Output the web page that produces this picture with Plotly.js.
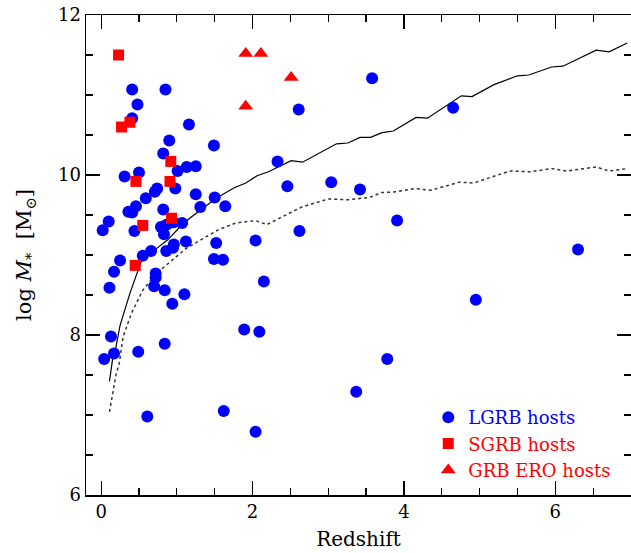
<!DOCTYPE html>
<html><head><meta charset="utf-8">
<script src="https://cdn.plot.ly/plotly-3.0.1.min.js"></script>
<style>html,body{margin:0;padding:0;overflow:hidden;background:#fff}</style>
</head><body><div id="chart"></div>
<script>
// LGRB hosts
const lgrbZ = [0.41,0.85,0.48,0.41,1.16,1.49,0.90,0.82,2.33,2.61,3.58,4.65,0.31,0.50,1.01,1.13,1.25,0.98,0.71,0.74,0.59,1.25,1.50,2.46,1.64,1.31,0.82,0.46,0.36,0.41,0.10,0.02,0.44,0.79,0.87,0.83,0.96,1.07,1.12,0.96,0.95,0.86,1.52,2.04,1.49,1.61,0.66,0.55,0.25,0.17,0.72,0.72,0.70,0.84,1.10,0.11,0.94,2.15,1.89,2.09,0.13,0.84,0.17,0.49,0.04,0.61,1.62,2.04,3.04,3.42,2.62,3.91,6.30,4.95,3.78,3.37];
const lgrbM = [11.07,11.07,10.88,10.71,10.63,10.37,10.43,10.27,10.17,10.82,11.21,10.84,9.98,10.03,10.05,10.10,10.11,9.83,9.79,9.83,9.71,9.76,9.72,9.86,9.61,9.60,9.57,9.61,9.54,9.53,9.42,9.31,9.30,9.35,9.38,9.26,9.41,9.40,9.17,9.13,9.09,9.05,9.15,9.18,8.95,8.94,9.05,8.99,8.93,8.79,8.77,8.72,8.61,8.56,8.51,8.59,8.39,8.67,8.07,8.04,7.98,7.89,7.77,7.79,7.70,6.98,7.05,6.79,9.91,9.82,9.30,9.43,9.07,8.44,7.70,7.29];
// SGRB hosts
const sgrbZ = [0.23,0.27,0.38,0.92,0.46,0.91,0.55,0.93,0.45];
const sgrbM = [11.50,10.60,10.66,10.17,9.92,9.92,9.37,9.46,8.87];
// GRB ERO hosts
const eroZ = [1.91,2.11,2.51,1.91];
const eroM = [11.52,11.52,11.22,10.86];
// solid curve
const solidZ = [0.11,0.15,0.18,0.25,0.38,0.53,0.73,0.88,1.04,1.17,1.34,1.52,1.65,1.76,1.91,2.06,2.21,2.35,2.51,2.66,3.11,3.26,3.42,3.56,3.71,3.86,4.16,4.31,4.76,4.90,5.19,5.50,5.65,5.95,6.10,6.54,6.71,6.95];
const solidM = [7.42,7.69,7.77,8.12,8.52,8.92,9.08,9.19,9.35,9.46,9.58,9.71,9.78,9.84,9.90,9.99,10.04,10.11,10.18,10.16,10.39,10.40,10.47,10.47,10.53,10.55,10.72,10.71,10.99,10.98,11.13,11.24,11.25,11.35,11.36,11.56,11.54,11.65];
// dotted curve
const dotZ = [0.11,0.20,0.24,0.29,0.40,0.55,0.73,0.95,1.12,1.39,1.56,1.78,2.04,2.19,2.35,2.65,3.00,3.26,3.55,3.70,3.90,4.14,4.36,4.73,4.92,5.40,5.67,5.95,6.15,6.54,6.71,6.95];
const dotM = [7.04,7.52,7.65,7.98,8.27,8.56,8.77,8.94,9.08,9.23,9.32,9.40,9.43,9.38,9.46,9.60,9.70,9.69,9.72,9.78,9.79,9.83,9.81,9.91,9.90,10.05,10.04,10.08,10.05,10.10,10.05,10.08];

const FONT = 'DejaVu Serif, serif';
const traces = [
  {x: solidZ, y: solidM, mode:'lines', line:{color:'#000', width:1.2}, showlegend:false, hoverinfo:'skip'},
  {x: dotZ, y: dotM, mode:'lines', line:{color:'#333', width:1.5, dash:'dot'}, showlegend:false, hoverinfo:'skip'},
  {x: lgrbZ, y: lgrbM, mode:'markers', name:'<span style="color:#0000ff">LGRB hosts</span>',
   marker:{symbol:'circle', size:12, color:'#0000ff'}},
  {x: sgrbZ, y: sgrbM, mode:'markers', name:'<span style="color:#ff0000">SGRB hosts</span>',
   marker:{symbol:'square', size:11, color:'#ff0000'}},
  {x: eroZ, y: eroM, mode:'markers', name:'<span style="color:#ff0000">GRB ERO hosts</span>',
   marker:{symbol:'triangle-up', size:13, color:'#ff0000'}}
];
const axisCommon = {
  showline:true, linecolor:'#000', linewidth:1.5, mirror:'allticks',
  ticks:'inside', ticklen:14, tickwidth:1.2, tickcolor:'#000',
  showgrid:false, zeroline:false,
  tickfont:{family:FONT, size:18, color:'#000'},
  minor:{dtick:0.5, ticks:'inside', ticklen:7, tickwidth:1.2, tickcolor:'#000', showgrid:false}
};
const layout = {
  width:635, height:553,
  margin:{l:86, r:4, t:15, b:58},
  paper_bgcolor:'#fff', plot_bgcolor:'#fff',
  font:{family:FONT, color:'#000'},
  showlegend:true,
  legend:{x:0.628, y:0.2, xanchor:'left', yanchor:'top', bgcolor:'rgba(0,0,0,0)',
          font:{family:FONT, size:18}, itemwidth:30, tracegroupgap:0},
  xaxis: Object.assign({}, axisCommon, {range:[-0.2, 7.0], tickvals:[0,2,4,6],
    title:{text:'Redshift', font:{family:FONT, size:20, color:'#000'}, standoff:11}}),
  yaxis: Object.assign({}, axisCommon, {range:[6, 12], tickvals:[6,8,10,12],
    title:{text:'log <i>M</i><sub>*</sub>  [M<sub>⊙</sub>]', font:{family:FONT, size:21, color:'#000'}, standoff:20}})
};
Plotly.newPlot('chart', traces, layout, {displayModeBar:false, staticPlot:true});
</script></body></html>
